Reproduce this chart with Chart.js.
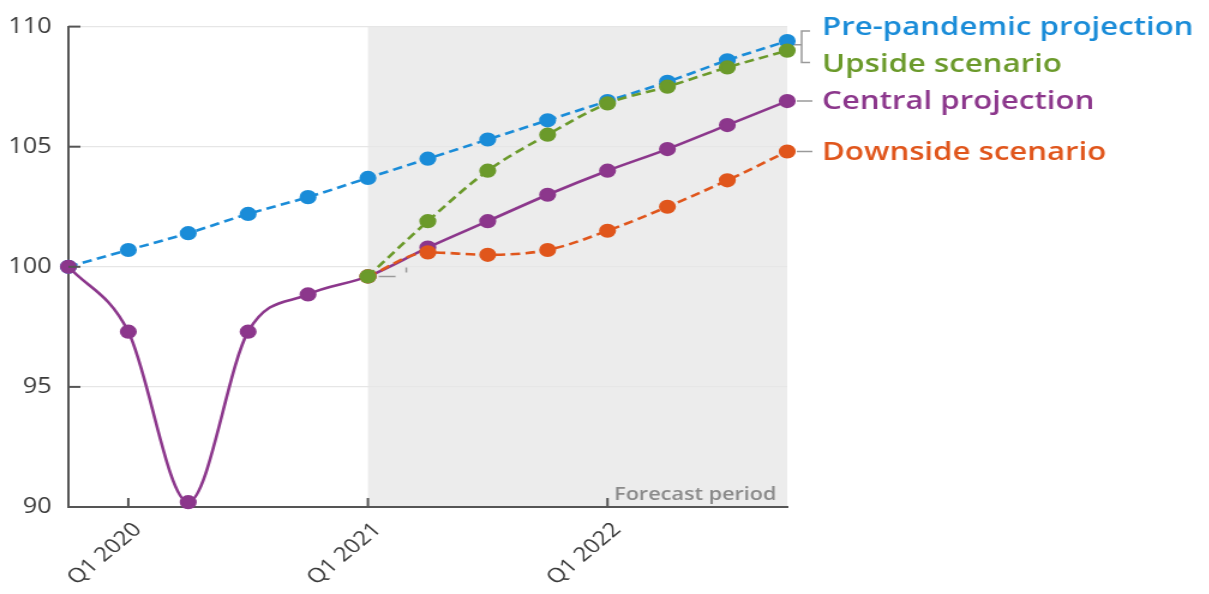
<!DOCTYPE html>
<html>
<head>
<meta charset="utf-8">
<script src="https://cdn.jsdelivr.net/npm/chart.js@4.4.1/dist/chart.umd.min.js"></script>
<style>
  html, body { margin: 0; padding: 0; background: #ffffff; overflow: hidden; }
  #wrap { width: 1209px; height: 594px; overflow: hidden; }
  /* the chart is laid out on a narrower canvas and widened 1.2x */
  #c { display: block; transform: scaleX(1.2); transform-origin: 0 0; }
</style>
</head>
<body>
<div id="wrap"><canvas id="c" width="1008" height="594"></canvas></div>
<script>
// Quarterly index, Q4 2019 = 100
const quarters = ['Q4 2019', 'Q1 2020', 'Q2 2020', 'Q3 2020', 'Q4 2020',
                  'Q1 2021', 'Q2 2021', 'Q3 2021', 'Q4 2021',
                  'Q1 2022', 'Q2 2022', 'Q3 2022', 'Q4 2022'];
const prePandemic = [100, 100.7, 101.4, 102.2, 102.9, 103.7, 104.5, 105.3, 106.1, 106.9, 107.7, 108.6, 109.4];
const central     = [100, 97.3, 90.2, 97.3, 98.85, 99.6, 100.8, 101.9, 103.0, 104.0, 104.9, 105.9, 106.9];
const upside      = [null, null, null, null, null, 99.6, 101.9, 104.0, 105.5, 106.8, 107.5, 108.3, 109.0];
const downside    = [null, null, null, null, null, 99.6, 100.6, 100.5, 100.7, 101.5, 102.5, 103.6, 104.8];
const yTicks = [90, 95, 100, 105, 110];
const forecastStart = 'Q1 2021';
const seriesNames = ['Pre-pandemic projection', 'Upside scenario', 'Central projection', 'Downside scenario'];

const BLUE = '#1a8cd8', GREEN = '#6b9a2b', PURPLE = '#8c378c', ORANGE = '#e0561c';
const FONT = '"Open Sans", "Noto Sans", sans-serif';

// grey forecast band behind the grid
const forecastBand = {
  id: 'forecastBand',
  beforeDraw(chart) {
    const { ctx, chartArea, scales } = chart;
    const x0 = scales.x.getPixelForValue(quarters.indexOf(forecastStart));
    ctx.save();
    ctx.fillStyle = '#ececec';
    ctx.fillRect(x0, chartArea.top, chartArea.right - x0, chartArea.bottom - chartArea.top);
    ctx.restore();
  },
  afterDraw(chart) {
    const { ctx, chartArea } = chart;
    ctx.save();
    ctx.font = '600 18px ' + FONT;
    ctx.fillStyle = '#8a8a8a';
    ctx.textAlign = 'right';
    ctx.textBaseline = 'alphabetic';
    ctx.fillText('Forecast period', chartArea.right - 9, chartArea.bottom - 7);
    ctx.restore();
  }
};

// inner tick marks on both axes
const innerTicks = {
  id: 'innerTicks',
  afterDraw(chart) {
    const { ctx, chartArea, scales } = chart;
    ctx.save();
    ctx.strokeStyle = '#555';
    ctx.lineWidth = 2;
    yTicks.forEach(v => {
      const y = scales.y.getPixelForValue(v);
      ctx.beginPath(); ctx.moveTo(chartArea.left, y); ctx.lineTo(chartArea.left + 10, y); ctx.stroke();
    });
    quarters.forEach((q, i) => {
      if (!q.startsWith('Q1')) return;
      const x = scales.x.getPixelForValue(i);
      ctx.beginPath(); ctx.moveTo(x, chartArea.bottom); ctx.lineTo(x, chartArea.bottom - 9); ctx.stroke();
    });
    ctx.restore();
  }
};

// series names at the line ends, with connectors
const endLabels = {
  id: 'endLabels',
  afterDatasetsDraw(chart) {
    const { ctx, scales } = chart;
    const last = quarters.length - 1;
    const xe = scales.x.getPixelForValue(last);
    const yPre = scales.y.getPixelForValue(prePandemic[last]);
    const yUp = scales.y.getPixelForValue(upside[last]);
    const yCen = scales.y.getPixelForValue(central[last]);
    const yDown = scales.y.getPixelForValue(downside[last]);
    const tx = xe + 29;
    const yPreLbl = yPre - 14, yUpLbl = yUp + 13;

    ctx.save();
    ctx.strokeStyle = '#9a9a9a';
    ctx.lineWidth = 1.5;
    // bracket for the two upper series
    const bx = xe + 12;
    const midY = (yPre + yUp) / 2 - 1;
    ctx.beginPath();
    ctx.moveTo(xe + 6, midY); ctx.lineTo(bx, midY);
    ctx.moveTo(bx + 7, yPreLbl + 4); ctx.lineTo(bx, yPreLbl + 4); ctx.lineTo(bx, yUpLbl - 1); ctx.lineTo(bx + 7, yUpLbl - 1);
    ctx.moveTo(xe + 8, yCen); ctx.lineTo(xe + 21, yCen);
    ctx.moveTo(xe + 8, yDown); ctx.lineTo(xe + 21, yDown);
    ctx.stroke();

    // short connector at the start of the scenarios
    const xs = scales.x.getPixelForValue(quarters.indexOf(forecastStart));
    const ys = scales.y.getPixelForValue(central[quarters.indexOf(forecastStart)]);
    ctx.beginPath();
    ctx.moveTo(xs + 9, ys); ctx.lineTo(xs + 23, ys);
    ctx.moveTo(xs + 32, ys - 4); ctx.lineTo(xs + 32, ys - 9);
    ctx.stroke();

    ctx.font = '600 26px ' + FONT;
    ctx.textAlign = 'left';
    ctx.textBaseline = 'middle';
    const rows = [[seriesNames[0], BLUE, yPreLbl], [seriesNames[1], GREEN, yUpLbl],
                  [seriesNames[2], PURPLE, yCen], [seriesNames[3], ORANGE, yDown]];
    rows.forEach(([t, c, y]) => { ctx.fillStyle = c; ctx.fillText(t, tx, y + 1); });
    ctx.restore();
  }
};

function lineSet(label, data, color, dashed, order) {
  return {
    label, data, order,
    borderColor: color, backgroundColor: color,
    pointBackgroundColor: color, pointBorderColor: color,
    borderWidth: 2.6, pointRadius: 5.8, pointHoverRadius: 5.8,
    borderDash: dashed ? [8, 4.5] : [],
    cubicInterpolationMode: 'monotone',
    spanGaps: false, clip: 10
  };
}

new Chart(document.getElementById('c'), {
  type: 'line',
  data: {
    labels: quarters,
    datasets: [
      lineSet(seriesNames[0], prePandemic, BLUE, true, 4),
      lineSet(seriesNames[2], central, PURPLE, false, 3),
      lineSet(seriesNames[3], downside, ORANGE, true, 2),
      lineSet(seriesNames[1], upside, GREEN, true, 1)
    ]
  },
  options: {
    responsive: false,
    animation: false,
    devicePixelRatio: 1,
    layout: { padding: { top: 23, right: 352, left: 0, bottom: 0 } },
    plugins: { legend: { display: false }, tooltip: { enabled: false } },
    elements: { line: { capBezierPoints: false } },
    scales: {
      x: {
        type: 'category',
        offset: false,
        afterFit(s) { s.height = 87; },
        grid: { display: false, drawTicks: false },
        border: { color: '#555', width: 2 },
        ticks: {
          autoSkip: false,
          maxRotation: 45, minRotation: 45,
          padding: 11,
          labelOffset: 8,
          color: '#3a3a3a',
          font: { family: FONT, size: 20 },
          callback(v, i) { return quarters[i].startsWith('Q1') ? quarters[i] : ''; }
        }
      },
      y: {
        min: 90, max: 110,
        afterFit(s) { s.width = 57; },
        afterBuildTicks(s) { s.ticks = yTicks.map(v => ({ value: v })); },
        grid: { color: '#e6e6e6', lineWidth: 1.2, drawTicks: false },
        border: { color: '#555', width: 2 },
        ticks: {
          padding: 14,
          color: '#3a3a3a',
          font: { family: FONT, size: 21 }
        }
      }
    }
  },
  plugins: [forecastBand, innerTicks, endLabels]
});
</script>
</body>
</html>
